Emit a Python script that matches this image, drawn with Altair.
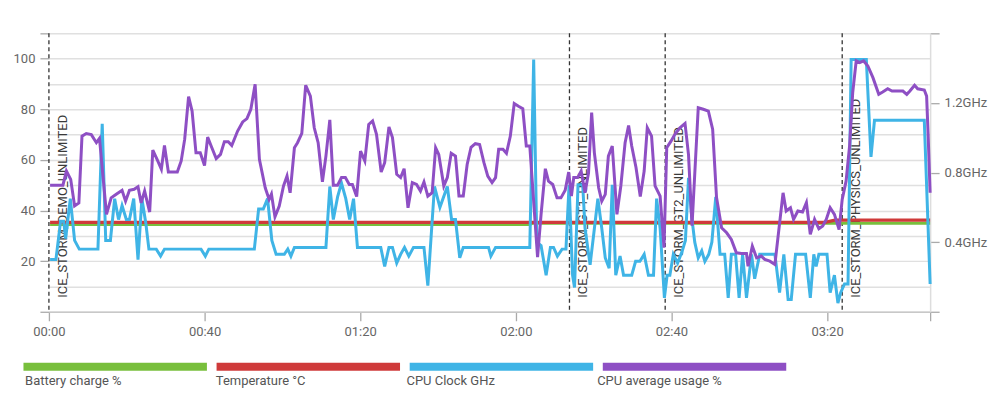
import altair as alt
import pandas as pd

# ---- data (minutes since start, value) ----
cpu_usage_pct = [
    (0.3, 50), (3.6, 50), (4.5, 55.6), (5.6, 52.3), (6.6, 41.8), (7.7, 43), (8.5, 69.4), (9.6, 70.4),
    (10.9, 70), (12.2, 66.8), (13.0, 68.5), (14.8, 38.5), (16.0, 45), (17.3, 46.4), (18.8, 48), (19.7, 43.7),
    (20.7, 48), (21.9, 48.4), (22.9, 49.4), (23.7, 43), (24.6, 47.7), (25.9, 39.4), (26.7, 63.9), (27.8, 60.2),
    (28.9, 56.3), (29.7, 65.7), (30.7, 55.2), (33.0, 55.2), (34.0, 59.6), (34.9, 68.2), (35.9, 85), (36.8, 79.3),
    (37.8, 62.8), (38.9, 62.8), (40.0, 57.8), (40.8, 69), (41.7, 65.5), (43.0, 60.5), (44.1, 62.2), (45.1, 67.2),
    (46.1, 67.2), (47.0, 65.7), (48.5, 71.4), (49.8, 75), (50.9, 76.3), (51.9, 80), (53.0, 89.9), (54.1, 60.2),
    (55.6, 49), (56.6, 44.4), (57.2, 46.5), (58.1, 37.5), (59.2, 41.8), (60.3, 49.7), (61.2, 53.6), (62.0, 47),
    (63.1, 64.8), (63.9, 66.8), (65.0, 70.5), (66.0, 89.5), (67.2, 85.2), (68.2, 72.7), (69.2, 66.8), (70.3, 51.3),
    (71.2, 61.5), (72.2, 75.8), (73.1, 50), (74.2, 50), (75.2, 53), (76.2, 53), (77.2, 50.3), (78.0, 50.3),
    (79.1, 45.5), (80.1, 63.5), (81.2, 59.6), (82.2, 74), (83.2, 75.4), (84.2, 70.1), (85.4, 55.2), (86.3, 58.9),
    (87.4, 73), (88.3, 68.8), (89.4, 54.3), (90.4, 53), (91.3, 56.5), (92.3, 41.1), (93.4, 51), (94.5, 50.3),
    (95.5, 47.7), (96.4, 51.3), (97.4, 45.7), (98.5, 47), (99.4, 64.8), (100.2, 62.2), (101.5, 49.7), (102.4, 53),
    (103.4, 62.6), (104.5, 61.5), (105.4, 45.7), (106.5, 45.7), (107.5, 58.2), (108.5, 65), (109.6, 66.4),
    (110.7, 66.1), (111.8, 59), (112.8, 53.6), (113.9, 51), (114.8, 53), (115.6, 64.2), (116.7, 64.2),
    (117.6, 62.6), (118.6, 69.4), (119.6, 82.3), (120.7, 81.2), (121.8, 80.2), (122.7, 65.5), (123.6, 65.5),
    (125.6, 21.6), (126.5, 38.5), (127.6, 56.5), (128.4, 51.6), (129.5, 50.3), (130.6, 45), (131.6, 45),
    (132.7, 48), (133.6, 55.2), (134.3, 45.7), (134.9, 53), (135.9, 53), (136.8, 55.6), (137.8, 47), (138.7, 54.9),
    (139.5, 78.7), (140.2, 62.8), (141.3, 49), (142.1, 43.7), (143.0, 46.4), (143.8, 61.5), (144.8, 65.5),
    (146.0, 38.5), (147.0, 49.7), (148.1, 66.8), (149.0, 73.6), (149.8, 65.5), (150.9, 57), (152.0, 45.5),
    (153.0, 55.6), (153.8, 72.7), (154.9, 69.4), (155.8, 49.7), (157.1, 45.7), (158.1, 25.3), (158.8, 64.8),
    (159.9, 67.4), (160.9, 70.1), (162.2, 72.7), (163.5, 74.4), (164.4, 62), (165.3, 34), (166.9, 80.6),
    (168.2, 80), (169.5, 79.3), (170.6, 72.1), (171.6, 45.1), (172.9, 33.2), (174.2, 31.2), (175.4, 28.6),
    (176.7, 23.3), (178.0, 23), (179.3, 23), (179.7, 18), (180.8, 25.9), (181.9, 21.3), (183.1, 22), (184.0, 20.7),
    (185.3, 20), (186.6, 18.7), (188.7, 47), (189.5, 39.8), (190.6, 41.1), (191.4, 36.5), (192.5, 39.8),
    (193.7, 39.4), (194.7, 43.1), (195.7, 30.6), (196.8, 36.5), (197.9, 32.8), (198.9, 33.9), (199.8, 36.5),
    (200.8, 41.1), (201.9, 38.5), (203.1, 32.5), (203.9, 44.4), (204.9, 51.6), (205.8, 65.5), (206.6, 86.6),
    (207.5, 99.1), (208.4, 98.4), (209.4, 99.1), (210.5, 97.1), (211.8, 92.5), (213.3, 85.9), (214.3, 86.8),
    (215.6, 88.1), (216.7, 87.2), (218.6, 87.2), (219.5, 87.2), (220.5, 85.9), (221.3, 87.2), (222.5, 89.5),
    (223.3, 88.1), (225.0, 87.6), (225.6, 85.2), (226.0, 69.4), (226.5, 47),
]

cpu_clock_ghz = [
    (0.3, 0.30), (1.8, 0.30), (3.0, 0.52), (3.8, 0.52), (4.3, 0.42), (5.5, 0.65), (6.6, 0.41), (7.8, 0.36),
    (12.6, 0.36), (13.7, 1.08), (14.6, 0.41), (15.8, 0.41), (16.9, 0.65), (17.9, 0.53), (18.8, 0.61),
    (19.9, 0.53), (20.7, 0.53), (21.8, 0.65), (22.9, 0.30), (23.9, 0.65), (24.9, 0.51), (25.7, 0.36),
    (27.6, 0.36), (28.7, 0.32), (29.7, 0.36), (39.1, 0.36), (40.2, 0.32), (41.1, 0.36), (52.8, 0.36),
    (53.9, 0.59), (55.1, 0.59), (56.2, 0.65), (57.3, 0.41), (58.4, 0.33), (60.5, 0.33), (61.4, 0.36),
    (62.2, 0.32), (63.1, 0.37), (71.2, 0.37), (72.2, 0.72), (73.1, 0.53), (74.2, 0.66), (75.2, 0.74),
    (76.3, 0.65), (77.3, 0.53), (78.3, 0.65), (79.3, 0.37), (85.3, 0.37), (86.3, 0.26), (87.4, 0.37),
    (88.3, 0.37), (89.4, 0.28), (90.4, 0.33), (91.4, 0.37), (92.5, 0.32), (93.7, 0.37), (96.4, 0.37),
    (97.4, 0.15), (99.1, 0.72), (100.5, 0.60), (102.4, 0.72), (103.5, 0.53), (104.5, 0.53), (105.6, 0.31),
    (106.5, 0.37), (113.0, 0.37), (113.6, 0.32), (114.8, 0.37), (123.6, 0.37), (124.6, 1.45), (125.4, 0.40),
    (126.5, 0.38), (127.8, 0.21), (128.9, 0.37), (129.7, 0.37), (130.7, 0.32), (131.9, 0.36), (132.9, 0.36),
    (133.7, 0.73), (134.6, 0.21), (135.1, 0.14), (136.0, 0.73), (137.2, 0.73), (137.8, 0.48), (139.1, 0.27),
    (140.0, 0.44), (141.1, 0.65), (142.1, 0.48), (143.0, 0.31), (144.0, 0.25), (144.8, 0.73), (145.7, 0.21),
    (146.8, 0.32), (147.7, 0.21), (149.8, 0.21), (150.8, 0.29), (151.9, 0.29), (153.0, 0.33), (154.1, 0.21),
    (155.4, 0.21), (156.2, 0.65), (157.1, 0.48), (158.2, 0.08), (158.9, 0.21), (159.6, 0.21), (160.5, 0.33),
    (161.6, 0.28), (162.8, 0.35), (163.6, 0.41), (164.4, 0.77), (165.2, 0.55), (166.0, 0.40), (166.9, 0.31),
    (167.8, 0.35), (168.6, 0.29), (169.6, 0.33), (170.4, 0.40), (171.4, 0.66), (172.5, 0.33), (173.7, 0.33),
    (174.6, 0.08), (175.4, 0.33), (176.5, 0.33), (177.4, 0.08), (178.3, 0.33), (179.3, 0.08), (180.6, 0.33),
    (181.4, 0.19), (182.7, 0.33), (186.6, 0.33), (187.8, 0.11), (188.9, 0.33), (190.0, 0.07), (190.8, 0.07),
    (191.9, 0.33), (194.5, 0.33), (195.7, 0.08), (196.6, 0.33), (197.2, 0.26), (197.9, 0.33), (200.0, 0.33),
    (200.8, 0.11), (201.9, 0.21), (202.8, 0.05), (203.5, 0.11), (204.5, 0.16), (205.4, 0.16), (206.2, 1.45),
    (210.1, 1.45), (211.3, 0.89), (212.2, 1.10), (225.0, 1.10), (226.5, 0.16),
]

battery_pct = [(0.3, 34.5), (123.5, 34.5), (124.5, 35.0), (226.5, 35.0)]
temperature_c = [(0.3, 35.3), (199.5, 35.3), (202.0, 36.2), (226.5, 36.2)]

marker_minutes = [0, 133.8, 158.4, 203.9]
marker_names = ["ICE_STORM_DEMO_UNLIMITED", "ICE_STORM_GT1_UNLIMITED",
                "ICE_STORM_GT2_UNLIMITED", "ICE_STORM_PHYSICS_UNLIMITED"]

series_names = ["Battery charge %", "Temperature °C", "CPU Clock GHz", "CPU average usage %"]
series_colors = ["#78bf3c", "#cf3a3a", "#3fb4e6", "#8e4fc4"]

x_end = 226.5
x_ticks = [0, 40, 80, 120, 160, 200, x_end]
left_ticks = [0, 10, 20, 30, 40, 50, 60, 70, 80, 90, 100, 110]
right_ticks = [0, 0.4, 0.8, 1.2, 1.6]

# ---- tables ----
def frame(pairs, col):
    return pd.DataFrame(pairs, columns=["minute", col])

usage_df = frame(cpu_usage_pct, "value")
clock_df = frame(cpu_clock_ghz, "ghz")
battery_df = frame(battery_pct, "value")
temp_df = frame(temperature_c, "value")
markers_df = pd.DataFrame({"minute": marker_minutes, "name": marker_names})
legend_df = pd.DataFrame({"name": series_names, "color": series_colors})

W, H = 883, 279
FONT = "Roboto"
LABEL = "#666666"

x_scale = alt.Scale(domain=[0, x_end], nice=False, zero=False)
left_scale = alt.Scale(domain=[0, 110], nice=False)
right_scale = alt.Scale(domain=[0, 1.6], nice=False)

x_axis = alt.Axis(
    values=x_ticks, grid=False, title=None,
    labelExpr=("datum.value % 40 === 0 ? "
               "(floor(datum.value/60) < 10 ? '0' : '') + floor(datum.value/60) + ':' + "
               "(datum.value % 60 < 10 ? '0' : '') + (datum.value % 60) : ''"),
    labelOverlap=False, labelFlush=False,
    labelFont=FONT, labelFontSize=13, labelColor=LABEL, labelPadding=5,
    tickSize=9, tickColor="#aaaaaa", tickWidth=1.3,
    domainColor="#c8c8c8", domainWidth=1.5,
)
left_axis = alt.Axis(
    values=left_ticks, orient="left", title=None, grid=True,
    gridColor="#e0e0e0", gridWidth=1.5,
    labelExpr="datum.value > 0 && datum.value <= 100 && datum.value % 20 === 0 ? datum.value : ''",
    labelFont=FONT, labelFontSize=13, labelColor=LABEL, labelPadding=5,
    tickSize=9, tickColor="#aaaaaa", tickWidth=1.3,
    tickOpacity={"condition": {"test": "datum.value % 20 === 0 || datum.value === 110", "value": 1}, "value": 0},
    domain=False,
)
right_axis = alt.Axis(
    values=right_ticks, orient="right", title=None, grid=False,
    labelExpr="datum.value > 0.1 && datum.value < 1.5 ? format(datum.value, '.1f') + 'GHz' : ''",
    labelFont=FONT, labelFontSize=13, labelColor=LABEL, labelPadding=5,
    tickSize=9, tickColor="#aaaaaa", tickWidth=1.3,
    domainColor="#dddddd", domainWidth=1.5,
)

X = alt.X("minute:Q", scale=x_scale, axis=x_axis)
Xn = alt.X("minute:Q", scale=x_scale, axis=None)

rules = alt.Chart(markers_df).mark_rule(
    color="#333333", strokeWidth=1.3, strokeDash=[4, 3]
).encode(x=X)

labels = alt.Chart(markers_df).mark_text(
    angle=270, align="left", baseline="middle", dy=14,
    font=FONT, fontSize=13, color="#3a3a3a"
).encode(x=Xn, y=alt.value(H - 14), text="name:N")

battery = alt.Chart(battery_df).mark_line(color=series_colors[0], strokeWidth=3).encode(
    x=Xn, y=alt.Y("value:Q", scale=left_scale, axis=left_axis))
temperature = alt.Chart(temp_df).mark_line(color=series_colors[1], strokeWidth=3.2).encode(
    x=Xn, y=alt.Y("value:Q", scale=left_scale, axis=None))
clock = alt.Chart(clock_df).mark_line(color=series_colors[2], strokeWidth=3).encode(
    x=Xn, y=alt.Y("ghz:Q", scale=right_scale, axis=right_axis))
usage = alt.Chart(usage_df).mark_line(color=series_colors[3], strokeWidth=3).encode(
    x=Xn, y=alt.Y("value:Q", scale=left_scale, axis=None))

BAND_STEP = 193.5
BAND_PAD = 0.05
legend_scale = alt.Scale(domain=series_names, range=[-25.5, -25.5 + 4 * BAND_STEP - BAND_PAD * BAND_STEP],
                         paddingInner=BAND_PAD, paddingOuter=0)
legend_bars = alt.Chart(legend_df).mark_bar(cornerRadius=0).encode(
    x=alt.X("name:N", scale=legend_scale, axis=None, sort=series_names),
    y=alt.value(H + 51), y2=alt.value(H + 59),
    color=alt.Color("name:N", scale=alt.Scale(domain=series_names, range=series_colors), legend=None),
)
legend_text = alt.Chart(legend_df).mark_text(
    align="left", baseline="middle", font=FONT, fontSize=13, color="#555555",
    dx=-(BAND_STEP * (1 - BAND_PAD)) / 2 - 2
).encode(
    x=alt.X("name:N", scale=legend_scale, axis=None, sort=series_names),
    y=alt.value(H + 69), text="name:N",
)

chart = alt.layer(
    rules, labels, battery, temperature, clock, usage, legend_bars, legend_text
).resolve_scale(
    x="independent", y="independent", color="independent"
).properties(
    width=W, height=H, padding={"left": 5, "top": 24, "right": 5, "bottom": 5}
).configure_view(stroke=None)

chart.save("out.html", embed_options={"renderer": "svg", "actions": False})
